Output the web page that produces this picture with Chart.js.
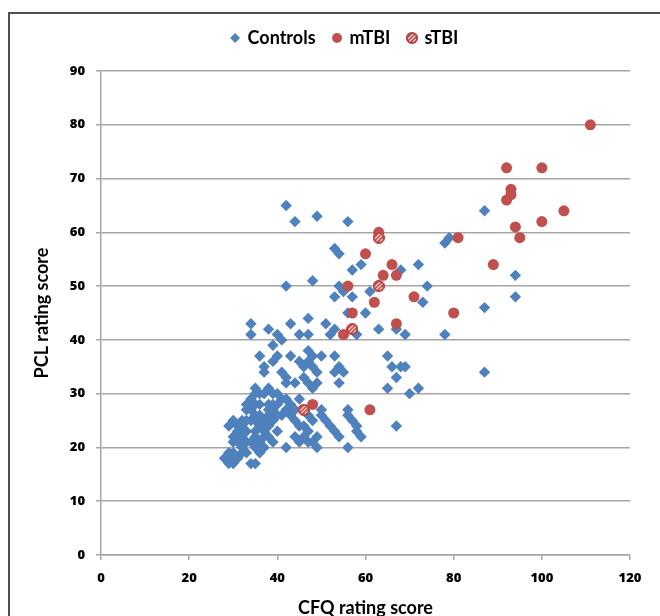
<!DOCTYPE html>
<html>
<head>
<meta charset="utf-8">
<script src="https://cdn.jsdelivr.net/npm/chart.js@4.4.1/dist/chart.umd.min.js"></script>
<style>
html,body{margin:0;padding:0;background:#fff;overflow:hidden;width:660px;height:616px;}
#wrap{position:relative;width:660px;height:616px;overflow:hidden;background:#fff;}
#c{position:absolute;left:0;top:0;}
#frame{position:absolute;left:8px;top:12px;width:720px;height:720px;border-left:2px solid #505050;border-top:2px solid #505050;box-sizing:border-box;pointer-events:none;}
</style>
</head>
<body>
<div id="wrap">
<canvas id="c" width="690" height="640"></canvas>
<div id="frame"></div>
</div>
<script>
// ---- data (CFQ score, PCL score) ----
const seriesNames = ["Controls", "mTBI", "sTBI"];
const xTicks = [0, 20, 40, 60, 80, 100, 120];
const yTicks = [0, 10, 20, 30, 40, 50, 60, 70, 80, 90];

const controlsCFQ = [
 42,44,49,56,87,78,79,53,54,59,57,68,72,48,42,55,54,61,74,53,57,73,87,94,94,60,56,43,47,51,53,52,45,47,58,63,67,69,78,41,34,34,38,40,87,72,70,65,67,66,68,69,65,
 36,43,47,50,53,45,46,47,48,48,54,55,53,54,49,41,42,42,37,46,44,49,47,48,35,37,40,41,40,42,43,42,41,40,
 44,45,46,47,48,46,49,47,48,49,45,50,51,52,53,54,50,47,58,59,58,56,42,39,40,44,56,56,57,67,44,43,45,
 33,34,35,36,38,39,30,29,32,33,35,29,30,31,32,34,35,36,28,30,31,32,32,33,34,35,36,37,36,37,38,38,39,34,36,38,39,31,32,34,35,37,33,29,38,39,36,35,31,30,37,39,40,39,29,30,31,33,35,37,38,33,35
];
const controlsPCL = [
 65,62,63,62,64,58,59,57,56,54,53,53,54,51,50,49,50,49,50,48,48,47,46,52,48,45,45,43,44,43,42,41,41,41,41,42,42,41,41,40,43,41,42,41,34,31,30,31,33,35,35,35,37,
 37,37,38,37,37,36,35,36,37,35,35,34,34,32,34,34,33,32,34,33,32,32,32,31,31,30,30,29,28,29,28,27,26,26,
 25,24,24,23,25,22,22,21,21,20,21,26,25,24,23,22,27,26,23,22,24,20,20,21,23,22,27,26,25,24,27,26,29,
 27,27,28,26,26,25,25,24,24,23,23,18,17,18,19,17,17,19,18,19,21,22,20,21,21,22,21,23,24,25,27,28,28,29,30,31,30,22,25,25,20,20,19,17,24,27,28,26,23,21,35,36,37,39,19,22,24,25,25,22,22,28,30
];
const mtbiCFQ = [111,92,100,93,93,92,105,100,94,95,81,89,80,63,60,66,64,67,56,71,62,57,67,55,48,61];
const mtbiPCL = [80,72,72,68,67,66,64,62,61,59,59,54,45,60,56,54,52,52,50,48,47,45,43,41,28,27];
const stbiCFQ = [63,63,57,46];
const stbiPCL = [59,50,42,27];

const toPts = (xs, ys) => xs.map((x, i) => ({x: x, y: ys[i]}));

const BLUE = '#4f81bd', RED = '#c0504d', DARKRED = '#b8413e', GRID = '#a6a6a6';
const FONT = "Lato, 'Open Sans', 'DejaVu Sans', sans-serif";
const TICKFONT = "'Open Sans', Lato, 'DejaVu Sans', sans-serif";

function hatched(d) {
  const c = document.createElement('canvas');
  c.width = d; c.height = d;
  const g = c.getContext('2d');
  const r = d / 2;
  g.beginPath(); g.arc(r, r, r - 0.2, 0, Math.PI * 2); g.fillStyle = DARKRED; g.fill();
  g.save(); g.clip();
  g.strokeStyle = '#ffffff'; g.lineWidth = 1.1;
  for (let k = -d + 1; k < 2 * d; k += 4) { g.beginPath(); g.moveTo(k, d); g.lineTo(k + d, 0); g.stroke(); }
  g.restore();
  g.beginPath(); g.arc(r, r, r - 1, 0, Math.PI * 2); g.strokeStyle = DARKRED; g.lineWidth = 2; g.stroke();
  return c;
}
const stbiImg = hatched(12);

const legendGap = {
  id: 'legendGap',
  beforeInit(chart) {
    const f = chart.legend.fit;
    chart.legend.fit = function () { f.call(this); this.height += 14; };
  }
};

new Chart(document.getElementById('c'), {
  type: 'scatter',
  data: {
    datasets: [
      {label: seriesNames[0], data: toPts(controlsCFQ, controlsPCL), pointStyle: 'rectRot', radius: 5.7,
       backgroundColor: BLUE, borderColor: BLUE, borderWidth: 0, order: 3},
      {label: seriesNames[1], data: toPts(mtbiCFQ, mtbiPCL), pointStyle: 'circle', radius: 5.5,
       backgroundColor: RED, borderColor: RED, borderWidth: 0, order: 2},
      {label: seriesNames[2], data: toPts(stbiCFQ, stbiPCL), pointStyle: stbiImg, radius: 5.5,
       backgroundColor: RED, borderColor: RED, borderWidth: 0, order: 1}
    ]
  },
  options: {
    responsive: false,
    animation: false,
    events: [],
    layout: {padding: {left: 0, right: 0, top: 11, bottom: 0}},
    plugins: {
      tooltip: {enabled: false},
      legend: {
        position: 'top',
        labels: {
          usePointStyle: true, boxWidth: 7, boxHeight: 7, padding: 18,
          color: '#000', font: {family: FONT, size: 18, weight: 'bold'},
          sort: (a, b) => a.datasetIndex - b.datasetIndex
        }
      }
    },
    scales: {
      x: {
        type: 'linear', min: xTicks[0], max: xTicks[xTicks.length - 1],
        afterBuildTicks: s => { s.ticks = xTicks.map(v => ({value: v})); },
        ticks: {padding: 10, color: '#000', font: {family: TICKFONT, size: 13, weight: '800'}},
        grid: {drawOnChartArea: false, drawTicks: true, tickLength: 5, color: GRID, lineWidth: 1.5},
        border: {color: GRID, width: 1.5},
        title: {display: true, text: 'CFQ rating score', color: '#000',
                font: {family: FONT, size: 18, weight: 'bold'}, padding: {top: 0, bottom: 21}},
        afterFit: s => { s.height = 85; }
      },
      y: {
        type: 'linear', min: yTicks[0], max: yTicks[yTicks.length - 1],
        afterBuildTicks: s => { s.ticks = yTicks.map(v => ({value: v})); },
        ticks: {padding: 11, color: '#000', font: {family: TICKFONT, size: 13, weight: '800'}},
        grid: {color: GRID, lineWidth: 1.5, tickLength: 5},
        border: {color: GRID, width: 1.5},
        title: {display: true, text: 'PCL rating score', color: '#000',
                font: {family: FONT, size: 18, weight: 'bold'}, padding: {top: 31, bottom: 0}},
        afterFit: s => { s.width = 101; }
      },
      yPad: {
        type: 'linear', position: 'right', display: true,
        ticks: {display: false}, grid: {display: false, drawTicks: false}, border: {display: false},
        afterFit: s => { s.width = 60; }
      }
    }
  },
  plugins: [legendGap]
});
</script>
</body>
</html>
